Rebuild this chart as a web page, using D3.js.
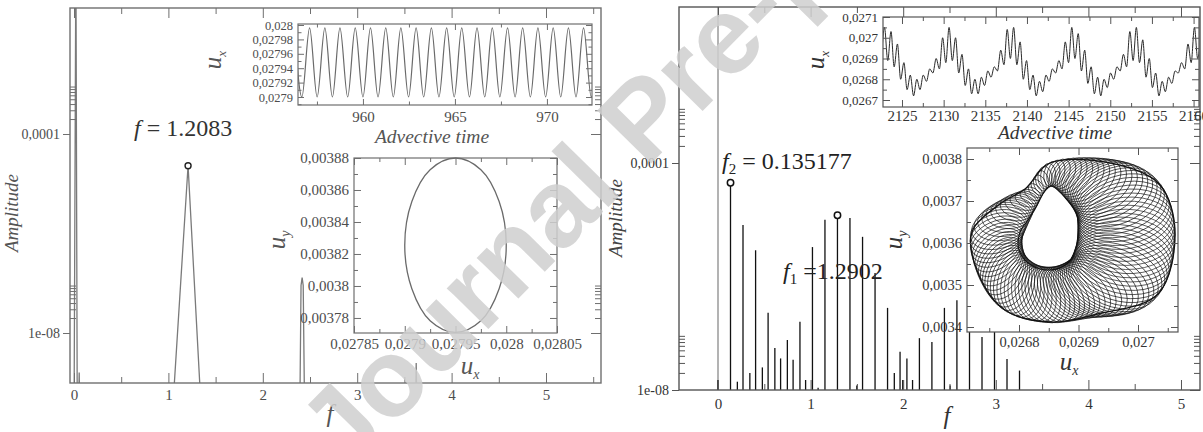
<!DOCTYPE html>
<html lang="en">
<head>
<meta charset="utf-8">
<script src="https://d3js.org/d3.v7.min.js"></script>
<style>
  body { margin: 0; background: #fff; }
  svg { display: block; }
  svg text { font-family: 'Liberation Serif', 'DejaVu Serif', serif; }
  svg text.wm { font-family: 'Liberation Sans', 'DejaVu Sans', sans-serif; }
</style>
</head>
<body>
<svg width="1203" height="432"></svg>
<script>
// ---------- data ----------
// left spectrum (single frequency), polyline in (f, amplitude)
var leftSpecF = [0.000, 0.020, 0.035, 0.045, 0.055, 0.065, 1.030, 1.2083, 1.360, 2.390, 2.405, 2.4166, 2.428, 2.445, 3.615, 3.625, 3.635, 5.600];
var leftSpecA = [1e-10, 0.5, 1e-10, 1e-10, 1.6e-9, 1e-10, 1e-10, 2.3e-5, 1e-10, 1e-10, 9e-8, 1.3e-7, 9e-8, 1e-10, 1e-10, 2.5e-9, 1e-10, 1e-10];
var leftMarkF = [1.2083];
var leftMarkA = [2.3e-5];

// right spectrum (two frequencies), stems
var rightStemF = [0.000, 0.135, 0.209, 0.270, 0.344, 0.406, 0.479, 0.541, 0.614, 0.676, 0.749, 0.811, 0.885, 0.946, 1.020, 1.081, 1.155, 1.290, 1.425, 1.499, 1.561, 1.696, 1.831, 1.904, 1.966, 1.995, 2.040, 2.101, 2.175, 2.310, 2.445, 2.507, 2.580, 2.716, 2.851, 2.986, 3.121, 3.256];
var rightStemA = [1.5e-8, 4.5e-5, 1.4e-8, 8.1e-6, 2.0e-8, 2.9e-6, 2.5e-8, 2.3e-7, 5.5e-8, 3.6e-8, 7.6e-8, 3.4e-8, 1.6e-7, 1.5e-8, 3.3e-6, 1.1e-8, 1.0e-5, 1.2e-5, 1.07e-5, 1.2e-8, 5.0e-6, 1.15e-6, 2.8e-7, 2.0e-8, 4.7e-8, 1.5e-8, 3.6e-8, 1.5e-8, 8.2e-8, 7.0e-8, 2.8e-7, 1.2e-8, 3.8e-7, 2.8e-7, 8.6e-8, 1.3e-7, 3.5e-8, 2.2e-8];
var rightDcF = [0.0];
var rightDcA = [0.5];
var rightMarkF = [0.135177, 1.2902];
var rightMarkA = [4.5e-5, 1.2e-5];

// left inset: u_x against advective time (extrema of the oscillation)
var ltsT = [956.27, 956.68, 957.10, 957.51, 957.93, 958.34, 958.75, 959.17, 959.58, 960.00, 960.41, 960.82, 961.24, 961.65, 962.06, 962.48, 962.89, 963.30, 963.72, 964.13, 964.55, 964.96, 965.37, 965.79, 966.20, 966.62, 967.03, 967.44, 967.86, 968.27, 968.68, 969.10, 969.51, 969.93, 970.34, 970.75, 971.17, 971.58, 971.99, 972.41, 972.82];
var ltsU = [0.027996, 0.027900, 0.027996, 0.027900, 0.027996, 0.027900, 0.027996, 0.027900, 0.027996, 0.027900, 0.027996, 0.027900, 0.027996, 0.027900, 0.027996, 0.027900, 0.027996, 0.027900, 0.027996, 0.027900, 0.027996, 0.027900, 0.027996, 0.027900, 0.027996, 0.027900, 0.027996, 0.027900, 0.027996, 0.027900, 0.027996, 0.027900, 0.027996, 0.027900, 0.027996, 0.027900, 0.027996, 0.027900, 0.027996, 0.027900, 0.027996];

// left phase portrait: closed orbit
var lphUx = [0.028000, 0.027993, 0.027975, 0.027950, 0.027925, 0.027907, 0.027900, 0.027907, 0.027925, 0.027950, 0.027975, 0.027993];
var lphUy = [0.0038255, 0.0038528, 0.0038727, 0.0038800, 0.0038727, 0.0038528, 0.0038255, 0.0037983, 0.0037783, 0.0037710, 0.0037783, 0.0037983];

// right inset: u_x against advective time (extrema)
var rtsT = [2122.51, 2122.90, 2123.29, 2123.68, 2124.06, 2124.45, 2124.84, 2125.23, 2125.61, 2126.00, 2126.39, 2126.78, 2127.16, 2127.55, 2127.94, 2128.33, 2128.71, 2129.10, 2129.49, 2129.88,
            2130.26, 2130.65, 2131.04, 2131.43, 2131.81, 2132.20, 2132.59, 2132.98, 2133.36, 2133.75, 2134.14, 2134.53, 2134.91, 2135.30, 2135.69, 2136.08, 2136.46, 2136.85, 2137.24, 2137.63,
            2138.01, 2138.40, 2138.79, 2139.18, 2139.56, 2139.95, 2140.34, 2140.73, 2141.11, 2141.50, 2141.89, 2142.28, 2142.66, 2143.05, 2143.44, 2143.83, 2144.21, 2144.60, 2144.99, 2145.38,
            2145.76, 2146.15, 2146.54, 2146.93, 2147.31, 2147.70, 2148.09, 2148.48, 2148.86, 2149.25, 2149.64, 2150.03, 2150.41, 2150.80, 2151.19, 2151.58, 2151.96, 2152.35, 2152.74, 2153.13,
            2153.51, 2153.90, 2154.29, 2154.68, 2155.06, 2155.45, 2155.84, 2156.23, 2156.61, 2157.00, 2157.39, 2157.78, 2158.16, 2158.55, 2158.94, 2159.33, 2159.71, 2160.10, 2160.49, 2160.88];
var rtsU = [0.02688, 0.02705, 0.02689, 0.02703, 0.02686, 0.02697, 0.02680, 0.02688, 0.02675, 0.02682, 0.02672, 0.02680, 0.02675, 0.02682, 0.02679, 0.02685, 0.02683, 0.02690, 0.02685, 0.02700,
            0.02688, 0.02705, 0.02689, 0.02700, 0.02683, 0.02692, 0.02677, 0.02685, 0.02673, 0.02680, 0.02673, 0.02681, 0.02677, 0.02684, 0.02681, 0.02686, 0.02684, 0.02694, 0.02687, 0.02704,
            0.02690, 0.02705, 0.02687, 0.02698, 0.02680, 0.02689, 0.02675, 0.02682, 0.02672, 0.02679, 0.02674, 0.02682, 0.02679, 0.02685, 0.02683, 0.02689, 0.02685, 0.02698, 0.02688, 0.02705,
            0.02690, 0.02702, 0.02684, 0.02694, 0.02678, 0.02686, 0.02673, 0.02681, 0.02672, 0.02680, 0.02676, 0.02683, 0.02680, 0.02686, 0.02684, 0.02692, 0.02686, 0.02703, 0.02689, 0.02705,
            0.02688, 0.02699, 0.02681, 0.02690, 0.02676, 0.02683, 0.02672, 0.02679, 0.02674, 0.02681, 0.02678, 0.02684, 0.02683, 0.02688, 0.02685, 0.02697, 0.02688, 0.02705, 0.02690, 0.02703];

// right phase portrait: outer rim and inner hole of the torus
var torOutUx = [0.0270622, 0.0270370, 0.0269698, 0.0268521, 0.0268101, 0.0267681, 0.0267210, 0.0267311, 0.0267765, 0.0268521, 0.0269311, 0.0270336];
var torOutUy = [0.0036262, 0.0037381, 0.0037857, 0.0037905, 0.0037286, 0.0036929, 0.0036262, 0.0035286, 0.0034405, 0.0034119, 0.0034309, 0.0034786];
var torInUx = [0.0268992, 0.0268975, 0.0268824, 0.0268521, 0.0268286, 0.0268151, 0.0268017, 0.0268000, 0.0268202, 0.0268521, 0.0268824, 0.0268958];
var torInUy = [0.0036262, 0.0036643, 0.0036998, 0.0037357, 0.0036857, 0.0036548, 0.0036262, 0.0035833, 0.0035476, 0.0035357, 0.0035524, 0.0035905];

// tick values and labels
var fTicks = [0, 1, 2, 3, 4, 5];
var fLabels = ["0", "1", "2", "3", "4", "5"];
var ampTicks = [1e-8, 1e-4];
var ampLabels = ["1e-08", "0,0001"];
var ltsTTicks = [960, 965, 970];
var ltsTLabels = ["960", "965", "970"];
var ltsUTicks = [0.0279, 0.02792, 0.02794, 0.02796, 0.02798, 0.028];
var ltsULabels = ["0,0279", "0,02792", "0,02794", "0,02796", "0,02798", "0,028"];
var lphXTicks = [0.02785, 0.0279, 0.02795, 0.028, 0.02805];
var lphXLabels = ["0,02785", "0,0279", "0,02795", "0,028", "0,02805"];
var lphYTicks = [0.00378, 0.0038, 0.00382, 0.00384, 0.00386, 0.00388];
var lphYLabels = ["0,00378", "0,0038", "0,00382", "0,00384", "0,00386", "0,00388"];
var rtsTTicks = [2125, 2130, 2135, 2140, 2145, 2150, 2155, 2160];
var rtsTLabels = ["2125", "2130", "2135", "2140", "2145", "2150", "2155", "2160"];
var rtsUTicks = [0.0267, 0.0268, 0.0269, 0.027, 0.0271];
var rtsULabels = ["0,0267", "0,0268", "0,0269", "0,027", "0,0271"];
var rphXTicks = [0.0268, 0.0269, 0.027];
var rphXLabels = ["0,0268", "0,0269", "0,027"];
var rphYTicks = [0.0034, 0.0035, 0.0036, 0.0037, 0.0038];
var rphYLabels = ["0,0034", "0,0035", "0,0036", "0,0037", "0,0038"];

// ---------- drawing ----------
var svg = d3.select("svg");
svg.append("rect").attr("width", 1203).attr("height", 432).attr("fill", "#fff");
var defs = svg.append("defs");

function clip(id, x, y) {
  defs.append("clipPath").attr("id", id).append("rect")
    .attr("x", x.range()[0]).attr("y", y.range()[1])
    .attr("width", x.range()[1] - x.range()[0]).attr("height", y.range()[0] - y.range()[1]);
}

function inside(vals, s) {
  var d = s.domain(), lo = Math.min(d[0], d[1]), hi = Math.max(d[0], d[1]);
  return vals.filter(function(v) { return v >= lo && v <= hi; });
}

// frame + grace style ticks on all four sides
function box(x, y, o) {
  var x0 = x.range()[0], x1 = x.range()[1], yb = y.range()[0], yt = y.range()[1];
  var g = svg.append("g");
  function put(axis, tx, ty, size) {
    var a = g.append("g").attr("transform", "translate(" + tx + "," + ty + ")").call(axis);
    a.select(".domain").remove();
    a.attr("font-family", null).attr("font-size", size || 10);
    a.selectAll("line").attr("stroke", o.tick).attr("stroke-width", 1);
    a.selectAll("text").attr("fill", o.text);
  }
  var xMaj = inside(o.xMajor, x), xMin = inside(o.xMinor, x);
  var yMaj = inside(o.yMajor, y), yMin = inside(o.yMinor, y);
  put(d3.axisBottom(x).tickValues(o.xMajor).tickSize(-o.maj).tickPadding(o.xPad)
        .tickFormat(function(d, i) { return o.xLabels[i]; }), 0, yb, o.xSize);
  put(d3.axisBottom(x).tickValues(xMin).tickSize(-o.min).tickFormat(""), 0, yb);
  put(d3.axisTop(x).tickValues(xMaj).tickSize(-o.maj).tickFormat(""), 0, yt);
  put(d3.axisTop(x).tickValues(xMin).tickSize(-o.min).tickFormat(""), 0, yt);
  put(d3.axisLeft(y).tickValues(o.yMajor).tickSize(o.yMajSize).tickPadding(o.yPad)
        .tickFormat(function(d, i) { return o.yLabels[i]; }), x0, 0, o.ySize);
  put(d3.axisLeft(y).tickValues(yMin).tickSize(-o.min).tickFormat(""), x0, 0);
  put(d3.axisRight(y).tickValues(yMaj).tickSize(-o.maj).tickFormat(""), x1, 0);
  put(d3.axisRight(y).tickValues(yMin).tickSize(-o.min).tickFormat(""), x1, 0);
  g.append("rect").attr("x", x0).attr("y", yt).attr("width", x1 - x0).attr("height", yb - yt)
    .attr("fill", "none").attr("stroke", o.frame).attr("stroke-width", o.frameW);
}

function label(x, y, size, color, rot, anchor) {
  return svg.append("text")
    .attr("transform", "translate(" + x + "," + y + ")" + (rot ? " rotate(" + rot + ")" : ""))
    .attr("text-anchor", anchor || "middle")
    .attr("font-size", size).attr("fill", color);
}

function logMinor(decades) {
  var out = [];
  decades.forEach(function(d) { d3.range(2, 10).forEach(function(k) { out.push(k * d); }); });
  return out;
}

function halfSteps(a, b, step) { return d3.range(a, b + 1e-9, step); }

// ===== left main panel =====
var lx = d3.scaleLinear().domain([-0.0424, 5.5826]).range([70, 601]);
var ly = d3.scaleLog().domain([Math.pow(10, -9.005), Math.pow(10, -1.467)]).range([383, 8]);
clip("clipL", lx, ly);

svg.append("path")
  .datum(d3.zip(leftSpecF, leftSpecA))
  .attr("clip-path", "url(#clipL)")
  .attr("fill", "none").attr("stroke", "#7a7a7a").attr("stroke-width", 1.3)
  .attr("d", d3.line().x(function(d) { return lx(d[0]); }).y(function(d) { return ly(d[1]); }));

box(lx, ly, {
  xMajor: fTicks, xLabels: fLabels, xMinor: halfSteps(0.5, 5.5, 1), xPad: 6, xSize: 15,
  yMajor: ampTicks, yLabels: ampLabels, yMinor: logMinor([1e-8, 1e-4]), yPad: 3, ySize: 14, yMajSize: 7,
  maj: 10, min: 6, tick: "#6f6f6f", text: "#4d4d4d", frame: "#6f6f6f", frameW: 1.4
});

svg.selectAll(".lmark").data(d3.zip(leftMarkF, leftMarkA)).enter().append("circle")
  .attr("cx", function(d) { return lx(d[0]); }).attr("cy", function(d) { return ly(d[1]); })
  .attr("r", 3).attr("fill", "#fff").attr("stroke", "#222").attr("stroke-width", 1.4);

label(18, 213, 19, "#555", -90).attr("font-style", "italic").text("Amplitude");
label(330, 422, 25, "#555").attr("font-style", "italic").text("f");
var ta = label(134, 136, 24, "#333", 0, "start");
ta.append("tspan").attr("font-style", "italic").text("f");
ta.append("tspan").text(" = 1.2083");

// ----- left inset: time series -----
var tx1 = d3.scaleLinear().domain([956.47, 972.45]).range([298, 592]);
var ty1 = d3.scaleLinear().domain([0.0278889, 0.0280014]).range([105, 24]);
clip("clipLTS", tx1, ty1);
svg.append("rect").attr("x", 298).attr("y", 24).attr("width", 294).attr("height", 81).attr("fill", "#fff");
svg.append("path")
  .datum(d3.zip(ltsT, ltsU))
  .attr("clip-path", "url(#clipLTS)")
  .attr("fill", "none").attr("stroke", "#6a6a6a").attr("stroke-width", 1.2)
  .attr("d", d3.line().curve(d3.curveMonotoneX).x(function(d) { return tx1(d[0]); }).y(function(d) { return ty1(d[1]); }));
box(tx1, ty1, {
  xMajor: ltsTTicks, xLabels: ltsTLabels, xMinor: halfSteps(957.5, 972.5, 5), xPad: 6, xSize: 15,
  yMajor: ltsUTicks, yLabels: ltsULabels, yMinor: halfSteps(0.02789, 0.02799, 0.00002), yPad: 5, ySize: 12.5, yMajSize: -6,
  maj: 6, min: 3.5, tick: "#6f6f6f", text: "#4d4d4d", frame: "#6f6f6f", frameW: 1.2
});
label(432, 143, 19.5, "#555").attr("font-style", "italic").text("Advective time");
var u1 = label(221, 60, 25, "#555", -90).attr("font-style", "italic");
u1.append("tspan").text("u");
u1.append("tspan").attr("font-size", 13).attr("dy", 5).text("x");

// ----- left inset: phase portrait -----
var px1 = d3.scaleLinear().domain([0.02785, 0.02805]).range([354, 557]);
var py1 = d3.scaleLinear().domain([0.0037706, 0.00388]).range([333, 158]);
clip("clipLPH", px1, py1);
svg.append("rect").attr("x", 354).attr("y", 158).attr("width", 203).attr("height", 175).attr("fill", "#fff");
svg.append("path")
  .datum(d3.zip(lphUx, lphUy))
  .attr("fill", "none").attr("stroke", "#6a6a6a").attr("stroke-width", 1.3)
  .attr("d", d3.line().curve(d3.curveCatmullRomClosed).x(function(d) { return px1(d[0]); }).y(function(d) { return py1(d[1]); }));
box(px1, py1, {
  xMajor: lphXTicks, xLabels: lphXLabels, xMinor: halfSteps(0.027875, 0.028025, 0.00005), xPad: 5, xSize: 15,
  yMajor: lphYTicks, yLabels: lphYLabels, yMinor: halfSteps(0.00377, 0.00387, 0.00002), yPad: 5, ySize: 15, yMajSize: -7,
  maj: 7, min: 4, tick: "#6f6f6f", text: "#4d4d4d", frame: "#6f6f6f", frameW: 1.2
});
var ux1 = label(470, 374, 25, "#555").attr("font-style", "italic");
ux1.append("tspan").text("u");
ux1.append("tspan").attr("font-size", 14).attr("dy", 5).text("x");
var uy1 = label(285, 240, 25, "#555", -90).attr("font-style", "italic");
uy1.append("tspan").text("u");
uy1.append("tspan").attr("font-size", 14).attr("dy", 5).text("y");

// ===== right main panel =====
var rx = d3.scaleLinear().domain([-0.4212, 5.2052]).range([679, 1200]);
var ry = d3.scaleLog().domain([1e-8, Math.pow(10, -1.251)]).range([390, 7]);
clip("clipR", rx, ry);

var stems = svg.append("g").attr("clip-path", "url(#clipR)");
stems.selectAll(".dc").data(d3.zip(rightDcF, rightDcA)).enter().append("line")
  .attr("x1", function(d) { return rx(d[0]); }).attr("x2", function(d) { return rx(d[0]); })
  .attr("y1", ry(1e-8)).attr("y2", function(d) { return ry(d[1]); })
  .attr("stroke", "#8a8a8a").attr("stroke-width", 1.3);
stems.selectAll(".stem").data(d3.zip(rightStemF, rightStemA)).enter().append("line")
  .attr("x1", function(d) { return rx(d[0]); }).attr("x2", function(d) { return rx(d[0]); })
  .attr("y1", ry(1e-8)).attr("y2", function(d) { return ry(d[1]); })
  .attr("stroke", "#111").attr("stroke-width", 1.3);

box(rx, ry, {
  xMajor: fTicks, xLabels: fLabels, xMinor: halfSteps(0.5, 4.5, 1), xPad: 8, xSize: 15,
  yMajor: ampTicks, yLabels: ampLabels, yMinor: logMinor([1e-8, 1e-4]), yPad: 3, ySize: 14, yMajSize: 7,
  maj: 10, min: 6, tick: "#555", text: "#333", frame: "#555", frameW: 1.4
});

svg.selectAll(".rmark").data(d3.zip(rightMarkF, rightMarkA)).enter().append("circle")
  .attr("cx", function(d) { return rx(d[0]); }).attr("cy", function(d) { return ry(d[1]); })
  .attr("r", 3.2).attr("fill", "#fff").attr("stroke", "#111").attr("stroke-width", 1.5);

label(622, 218, 19, "#444", -90).attr("font-style", "italic").text("Amplitude");
label(947, 424, 25, "#333").attr("font-style", "italic").text("f");
var tb = label(722, 169, 24, "#222", 0, "start");
tb.append("tspan").attr("font-style", "italic").text("f");
tb.append("tspan").attr("font-size", 15).attr("dy", 5).text("2");
tb.append("tspan").attr("dy", -5).text(" = 0.135177");
var tc = label(783, 279, 24, "#222", 0, "start");
tc.append("tspan").attr("font-style", "italic").text("f");
tc.append("tspan").attr("font-size", 15).attr("dy", 5).text("1");
tc.append("tspan").attr("dy", -5).text(" =1.2902");

// ----- right inset: time series -----
var tx2 = d3.scaleLinear().domain([2122.72, 2160.65]).range([883, 1199]);
var ty2 = d3.scaleLinear().domain([0.0266663, 0.0271]).range([107, 17]);
clip("clipRTS", tx2, ty2);
svg.append("rect").attr("x", 883).attr("y", 17).attr("width", 316).attr("height", 90).attr("fill", "#fff");
svg.append("path")
  .datum(d3.zip(rtsT, rtsU))
  .attr("clip-path", "url(#clipRTS)")
  .attr("fill", "none").attr("stroke", "#2a2a2a").attr("stroke-width", 1)
  .attr("d", d3.line().curve(d3.curveMonotoneX).x(function(d) { return tx2(d[0]); }).y(function(d) { return ty2(d[1]); }));
box(tx2, ty2, {
  xMajor: rtsTTicks, xLabels: rtsTLabels, xMinor: halfSteps(2127.5, 2157.5, 5), xPad: 3, xSize: 15,
  yMajor: rtsUTicks, yLabels: rtsULabels, yMinor: halfSteps(0.02675, 0.02705, 0.0001), yPad: 5, ySize: 13, yMajSize: -7,
  maj: 7, min: 4, tick: "#555", text: "#333", frame: "#555", frameW: 1.2
});
label(1055, 139, 19.5, "#333").attr("font-style", "italic").text("Advective time");
var u2 = label(824, 60, 25, "#333", -90).attr("font-style", "italic");
u2.append("tspan").text("u");
u2.append("tspan").attr("font-size", 13).attr("dy", 5).text("x");

// ----- right inset: torus -----
var px2 = d3.scaleLinear().domain([0.0267126, 0.0270672]).range([967, 1178]);
var py2 = d3.scaleLinear().domain([0.0033881, 0.0038262]).range([332, 148]);
clip("clipRPH", px2, py2);
svg.append("rect").attr("x", 967).attr("y", 148).attr("width", 211).attr("height", 184).attr("fill", "#fff");
var ring = d3.line().curve(d3.curveCatmullRomClosed)
  .x(function(d) { return px2(d[0]); }).y(function(d) { return py2(d[1]); });
var hid = svg.append("g").attr("visibility", "hidden");
var pOut = hid.append("path").attr("d", ring(d3.zip(torOutUx, torOutUy))).node();
var pIn = hid.append("path").attr("d", ring(d3.zip(torInUx, torInUy))).node();
var lenOut = pOut.getTotalLength(), lenIn = pIn.getTotalLength();
var tor = svg.append("g").attr("clip-path", "url(#clipRPH)");
var nLoops = 100;
d3.range(nLoops).forEach(function(k) {
  var s = k / nLoops;
  var a = pIn.getPointAtLength(s * lenIn), b = pOut.getPointAtLength(s * lenOut);
  var r = Math.hypot(b.x - a.x, b.y - a.y) / 2;
  var ang = Math.atan2(b.y - a.y, b.x - a.x) * 180 / Math.PI;
  tor.append("ellipse")
    .attr("rx", r).attr("ry", r * 0.62)
    .attr("transform", "translate(" + ((a.x + b.x) / 2) + "," + ((a.y + b.y) / 2) + ") rotate(" + ang + ")")
    .attr("fill", "none").attr("stroke", "#111").attr("stroke-width", 0.65);
});
tor.append("path").attr("d", ring(d3.zip(torOutUx, torOutUy)))
  .attr("fill", "none").attr("stroke", "#111").attr("stroke-width", 1.3);
tor.append("path").attr("d", ring(d3.zip(torInUx, torInUy)))
  .attr("fill", "none").attr("stroke", "#111").attr("stroke-width", 1.1);
box(px2, py2, {
  xMajor: rphXTicks, xLabels: rphXLabels, xMinor: halfSteps(0.02675, 0.02705, 0.0001), xPad: 5, xSize: 14.5,
  yMajor: rphYTicks, yLabels: rphYLabels, yMinor: halfSteps(0.00345, 0.00375, 0.0001), yPad: 5, ySize: 14.5, yMajSize: -7,
  maj: 7, min: 4, tick: "#555", text: "#333", frame: "#555", frameW: 1.2
});
var ux2 = label(1069, 370, 25, "#333").attr("font-style", "italic");
ux2.append("tspan").text("u");
ux2.append("tspan").attr("font-size", 14).attr("dy", 5).text("x");
var uy2 = label(902, 240, 25, "#333", -90).attr("font-style", "italic");
uy2.append("tspan").text("u");
uy2.append("tspan").attr("font-size", 14).attr("dy", 5).text("y");

// ===== watermark =====
svg.append("text").attr("class", "wm")
  .attr("transform", "translate(346,474) rotate(-45.5)")
  .attr("font-weight", "bold").attr("font-size", 110)
  .attr("fill", "#cfcfcf").attr("fill-opacity", 0.85)
  .text("Journal Pre-proof");
</script>
</body>
</html>
